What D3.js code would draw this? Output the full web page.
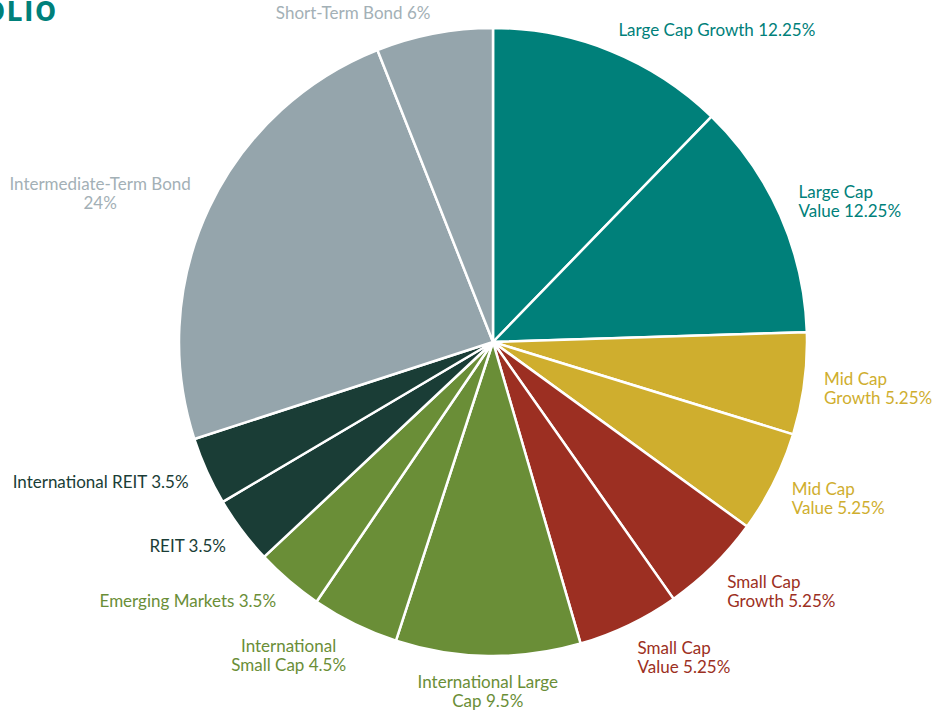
<!DOCTYPE html>
<html>
<head>
<meta charset="utf-8">
<script src="https://cdn.jsdelivr.net/npm/d3@7"></script>
<style>
  html, body { margin: 0; padding: 0; background: #fff; }
  svg text { font-family: Lato, "Open Sans", sans-serif; }
</style>
</head>
<body>
<div id="chart"></div>
<script>
// allocation slices, clockwise from 12 o'clock
var categories = ['Large Cap Growth', 'Large Cap Value', 'Mid Cap Growth', 'Mid Cap Value',
	'Small Cap Growth', 'Small Cap Value', 'International Large Cap', 'International Small Cap',
	'Emerging Markets', 'REIT', 'International REIT', 'Intermediate-Term Bond', 'Short-Term Bond'];
var weights = [12.25, 12.25, 5.25, 5.25, 5.25, 5.25, 9.5, 4.5, 3.5, 3.5, 3.5, 24, 6];
var groups = ['us-large', 'us-large', 'us-mid', 'us-mid', 'us-small', 'us-small', 'intl', 'intl', 'intl',
	'reit', 'reit', 'bond', 'bond'];
// how each label is wrapped in the picture
var labelLines = [
	['Large Cap Growth 12.25%'],
	['Large Cap', 'Value 12.25%'],
	['Mid Cap', 'Growth 5.25%'],
	['Mid Cap', 'Value 5.25%'],
	['Small Cap', 'Growth 5.25%'],
	['Small Cap', 'Value 5.25%'],
	['International Large', 'Cap 9.5%'],
	['International', 'Small Cap 4.5%'],
	['Emerging Markets 3.5%'],
	['REIT 3.5%'],
	['International REIT 3.5%'],
	['Intermediate-Term Bond', '24%'],
	['Short-Term Bond 6%']
];

var width = 937, height = 713;
var cx = 493, cy = 342, radius = 314;

var groupColor = d3.scaleOrdinal()
	.domain(['us-large', 'us-mid', 'us-small', 'intl', 'reit', 'bond'])
	.range(['#00807a', '#cfae2e', '#9c2f22', '#6a8e37', '#1a3d36', '#95a5ac']);
var labelColor = d3.scaleOrdinal()
	.domain(['us-large', 'us-mid', 'us-small', 'intl', 'reit', 'bond'])
	.range(['#00807a', '#cfae2e', '#9c2f22', '#6a8e37', '#1a3d36', '#a3b0b6']);

var svg = d3.select('#chart').append('svg')
	.attr('width', width)
	.attr('height', height);

// title, cropped off at the top-left in the reference
svg.append('text')
	.attr('x', 58)
	.attr('y', 21)
	.attr('text-anchor', 'end')
	.style('font-family', '"DejaVu Sans Condensed", "DejaVu Sans", sans-serif')
	.style('font-weight', 'bold')
	.style('font-size', '27px')
	.style('letter-spacing', '2px')
	.attr('fill', '#00807a')
	.text('MODEL PORTFOLIO');

var data = categories.map(function (c, i) {
	return { name: c, value: weights[i], group: groups[i], lines: labelLines[i] };
});

var pie = d3.pie().sort(null).value(function (d) { return d.value; });
var arcs = pie(data);

var arc = d3.arc().innerRadius(0).outerRadius(radius);
var labelArc = d3.arc().innerRadius(radius + 20).outerRadius(radius + 20);

var g = svg.append('g').attr('transform', 'translate(' + cx + ',' + cy + ')');

g.selectAll('path.slice')
	.data(arcs)
	.enter().append('path')
	.attr('class', 'slice')
	.attr('d', arc)
	.attr('fill', function (d) { return groupColor(d.data.group); })
	.attr('stroke', '#fff')
	.attr('stroke-width', 2.5)
	.attr('stroke-linejoin', 'round');

var fontSize = 17, lineHeight = 19, capHeight = 12;

var labels = g.selectAll('g.label')
	.data(arcs)
	.enter().append('g')
	.attr('class', 'label');

labels.each(function (d) {
	var el = d3.select(this);
	var p = labelArc.centroid(d);
	var mid = (d.startAngle + d.endAngle) / 2;
	var s = Math.sin(mid), c = Math.cos(mid);
	var n = d.data.lines.length;

	var txt = el.append('text')
		.attr('fill', labelColor(d.data.group))
		.style('font-size', fontSize + 'px');

	d.data.lines.forEach(function (line, i) {
		txt.append('tspan')
			.attr('x', 0)
			.attr('y', i * lineHeight)
			.text(line);
	});

	var w = 0;
	txt.selectAll('tspan').each(function () {
		w = Math.max(w, this.getComputedTextLength());
	});

	// horizontal: block starts at the point on the right, ends there on the left
	var x0;
	if (s > 0.15) {
		txt.attr('text-anchor', 'start');
		x0 = p[0];
	} else if (s < -0.15) {
		txt.attr('text-anchor', 'middle');
		x0 = p[0] - w / 2;
		if (n === 1) { txt.attr('text-anchor', 'end'); x0 = p[0]; }
	} else {
		txt.attr('text-anchor', 'middle');
		x0 = p[0];
	}

	// vertical: hang below the point at the bottom, roughly centred up top
	var blockH = capHeight + (n - 1) * lineHeight;
	var f = c < 0 ? (1 + c) / 2 : 0.5 + 0.5 * c * Math.abs(s);
	var top = p[1] - f * blockH;
	el.attr('transform', 'translate(' + x0 + ',' + (top + capHeight) + ')');
});
</script>
</body>
</html>
